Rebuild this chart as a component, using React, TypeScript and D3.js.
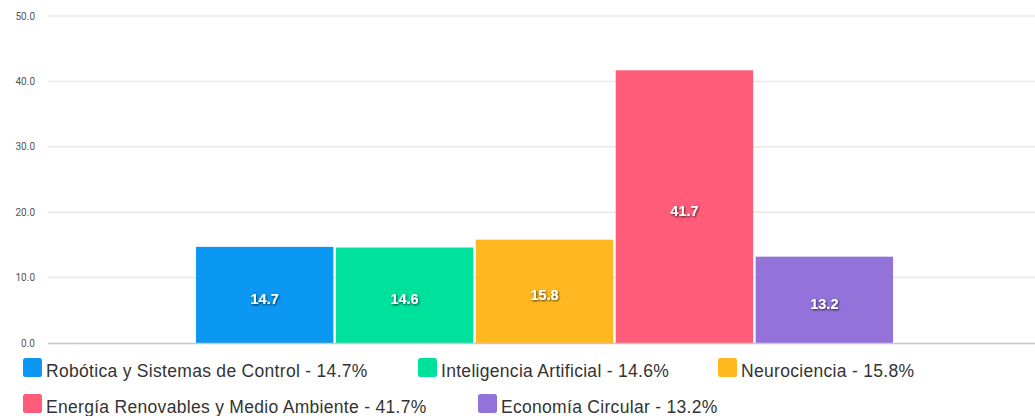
import * as d3 from "d3";
import React from "react";

const categories = [
  "Robótica y Sistemas de Control",
  "Inteligencia Artificial",
  "Neurociencia",
  "Energía Renovables y Medio Ambiente",
  "Economía Circular",
];
const values = [14.7, 14.6, 15.8, 41.7, 13.2];
const colors = ["#0a98f2", "#00e29b", "#ffb81f", "#ff5c79", "#9373d9"];
const yTicks = [0, 10, 20, 30, 40, 50];

// legend rows as laid out in the picture
const legendRows = [
  [0, 1, 2],
  [3, 4],
];
const legendX = [
  [23, 418, 718],
  [23, 478],
];

const W = 1035;
const H = 416;

const App: React.FC = () => {
  // empty slots on each side, like the original chart
  const slots = ["_l", ...categories, "_r"];
  const x = d3.scaleBand<string>().domain(slots).range([56, 1033]).paddingInner(0.018);
  const y = d3.scaleLinear().domain([0, 50]).range([343, 16]);

  return (
    <svg width={W} height={H} style={{ position: "absolute", left: 0, top: 0 }}>
      <defs>
        <filter id="shadow" x="-20%" y="-40%" width="140%" height="180%">
          <feDropShadow dx="0.8" dy="1" stdDeviation="0.8" floodColor="#000" floodOpacity="0.75" />
        </filter>
      </defs>
      <rect width={W} height={H} fill="#fff" />

      {/* grid */}
      {yTicks.map((t) => (
        <g key={t}>
          {t > 0 && (
            <line x1={48} x2={W} y1={y(t)} y2={y(t)} stroke="#e8e8e8" strokeWidth={1.5} />
          )}
          <text
            x={35}
            y={y(t) + 3.5}
            textAnchor="end"
            fontFamily="Roboto, 'Noto Sans', sans-serif"
            fontSize={10}
            fill="#555"
          >
            {t.toFixed(1)}
          </text>
        </g>
      ))}

      {/* bars */}
      {categories.map((c, i) => {
        const bx = x(c)!;
        const by = y(values[i]);
        const bh = y(0) - by;
        return (
          <g key={c}>
            <rect x={bx} y={by} width={x.bandwidth()} height={bh} fill={colors[i]} />
            <text
              x={bx + x.bandwidth() / 2}
              y={by + bh / 2 + 9}
              textAnchor="middle"
              fontFamily="'Liberation Sans', Arial, sans-serif"
              fontWeight="bold"
              fontSize={14.5}
              fill="#fff"
              filter="url(#shadow)"
            >
              {values[i].toFixed(1)}
            </text>
          </g>
        );
      })}

      <line x1={48} x2={W} y1={y(0) + 0.5} y2={y(0) + 0.5} stroke="#c8c8c8" strokeWidth={1.5} />

      {/* legend */}
      {legendRows.map((row, r) =>
        row.map((ci, k) => {
          const lx = legendX[r][k];
          const ly = 358 + r * 36;
          return (
            <g key={ci}>
              <rect x={lx} y={ly} width={19} height={19} rx={2.5} fill={colors[ci]} />
              <text
                x={lx + 23}
                y={ly + 19}
                fontFamily="'Liberation Sans', Arial, sans-serif"
                fontSize={17.5}
                letterSpacing={0.3}
                fill="#333"
              >
                {`${categories[ci]} - ${values[ci].toFixed(1)}%`}
              </text>
            </g>
          );
        })
      )}
    </svg>
  );
};

export default App;
